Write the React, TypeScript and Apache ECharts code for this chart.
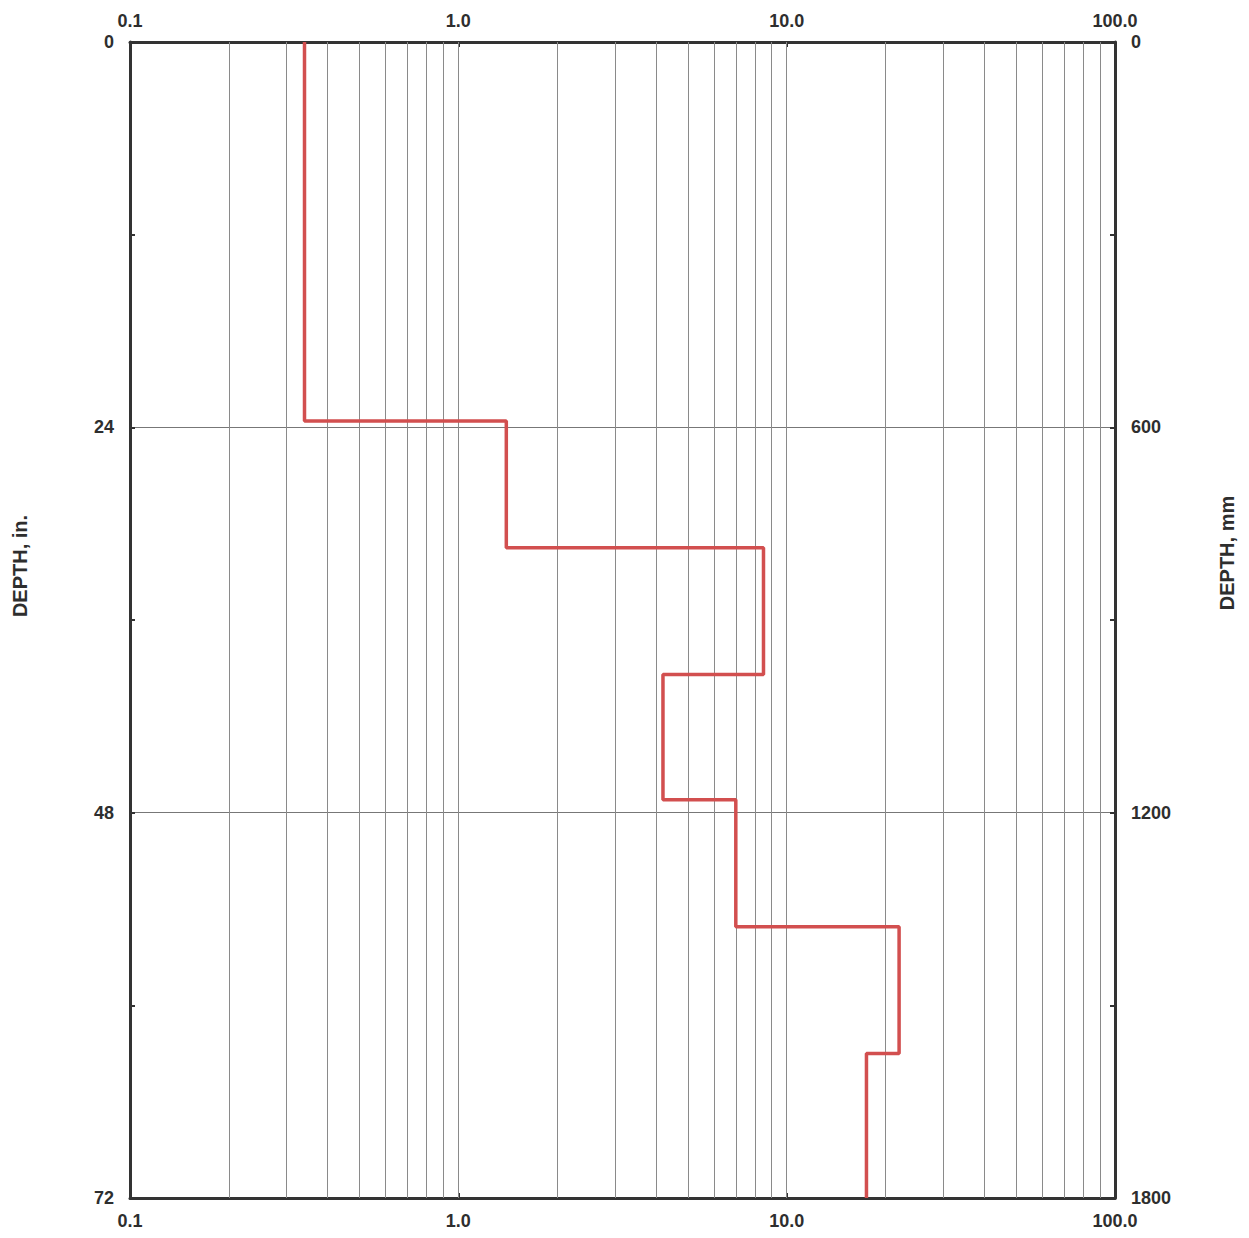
import React, { useEffect, useRef } from "react";
import * as echarts from "echarts";

// Layer boundaries (depth, in.) and measured values on the log axis
const layerTops = [0, 23.6, 31.5, 39.4, 47.2, 55.1, 63.0];
const layerBottoms = [23.6, 31.5, 39.4, 47.2, 55.1, 63.0, 72];
const layerValues = [0.34, 1.4, 8.5, 4.2, 7.0, 22, 17.5];

// Log grid lines (vertical)
const logGridValues = [
  0.2, 0.3, 0.4, 0.5, 0.6, 0.7, 0.8, 0.9, 1,
  2, 3, 4, 5, 6, 7, 8, 9, 10,
  20, 30, 40, 50, 60, 70, 80, 90,
];

const xTickLabels = ["0.1", "1.0", "10.0", "100.0"];
const depthInTicks = [0, 24, 48, 72];
const depthMmTicks = [0, 600, 1200, 1800];

const FONT = "Liberation Sans, Arial, sans-serif";
const TXT = "#2e2e2e";

export default function App() {
  const ref = useRef<HTMLDivElement>(null);
  useEffect(() => {
    if (!ref.current) return;
    const chart = echarts.init(ref.current, undefined, { renderer: "svg" });

    const stepData: number[][] = [];
    layerValues.forEach((v, i) => {
      stepData.push([v, layerTops[i]]);
      stepData.push([v, layerBottoms[i]]);
    });

    const fmtX = (v: number) => {
      const idx = Math.round(Math.log10(v)) + 1;
      return xTickLabels[idx] ?? String(v);
    };

    const xCommon = {
      type: "log",
      logBase: 10,
      min: 0.1,
      max: 100,
      axisLine: { show: true, onZero: false, lineStyle: { color: "#333", width: 3 } },
      axisTick: { show: true, inside: true, length: 5, lineStyle: { color: "#333", width: 2 } },
      splitLine: { show: false },
      axisLabel: {
        formatter: fmtX,
        fontFamily: FONT,
        fontWeight: "bold",
        fontSize: 18,
        color: TXT,
        showMinLabel: true,
        showMaxLabel: true,
      },
    };

    const option = {
      animation: false,
      backgroundColor: "#fff",
      grid: { left: 122, right: 126, top: 34, bottom: 26, containLabel: false },
      xAxis: [
        { ...xCommon, position: "bottom", axisLabel: { ...xCommon.axisLabel, margin: 14 } },
        { ...xCommon, position: "top", axisLabel: { ...xCommon.axisLabel, margin: 12 } },
      ],
      yAxis: [
        {
          type: "value",
          position: "left",
          inverse: true,
          min: 0,
          max: 72,
          interval: 24,
          axisLine: { show: true, onZero: false, lineStyle: { color: "#333", width: 3 } },
          axisTick: { show: true, inside: true, length: 5, lineStyle: { color: "#333", width: 2 } },
          minorTick: { show: true, splitNumber: 2, length: 5, lineStyle: { color: "#333", width: 2 } },
          splitLine: { show: true, lineStyle: { color: "#777", width: 1 } },
          axisLabel: {
            formatter: (v: number) => (depthInTicks.includes(v) ? String(v) : ""),
            fontFamily: FONT,
            fontWeight: "bold",
            fontSize: 18,
            color: TXT,
            margin: 16,
          },
        },
        {
          type: "value",
          position: "right",
          inverse: true,
          min: 0,
          max: 1800,
          interval: 600,
          axisLine: { show: true, onZero: false, lineStyle: { color: "#333", width: 3 } },
          axisTick: { show: true, inside: true, length: 5, lineStyle: { color: "#333", width: 2 } },
          minorTick: { show: true, splitNumber: 2, length: 5, lineStyle: { color: "#333", width: 2 } },
          splitLine: { show: false },
          axisLabel: {
            formatter: (v: number) => (depthMmTicks.includes(v) ? String(v) : ""),
            fontFamily: FONT,
            fontWeight: "bold",
            fontSize: 18,
            color: TXT,
            margin: 16,
          },
        },
      ],
      graphic: [
        {
          type: "text",
          x: 12,
          y: 558,
          rotation: Math.PI / 2,
          style: {
            text: "DEPTH, in.",
            fontFamily: FONT,
            fontWeight: "bold",
            fontSize: 20,
            fill: TXT,
            align: "center",
            verticalAlign: "middle",
          },
        },
        {
          type: "text",
          x: 1219,
          y: 545,
          rotation: Math.PI / 2,
          style: {
            text: "DEPTH, mm",
            fontFamily: FONT,
            fontWeight: "bold",
            fontSize: 20,
            fill: TXT,
            align: "center",
            verticalAlign: "middle",
          },
        },
      ],
      series: [
        {
          type: "line",
          xAxisIndex: 0,
          yAxisIndex: 0,
          data: stepData,
          symbol: "none",
          lineStyle: { color: "#d24f4f", width: 3.5 },
          z: 5,
          markLine: {
            silent: true,
            symbol: ["none", "none"],
            label: { show: false },
            lineStyle: { color: "#8a8a8a", width: 1, type: "solid" },
            data: logGridValues.map((v) => ({ xAxis: v })),
            z: 1,
          },
        },
      ],
    };

    chart.setOption(option as any);
    return () => chart.dispose();
  }, []);

  return <div ref={ref} style={{ width: 1233, height: 1222 }} />;
}
